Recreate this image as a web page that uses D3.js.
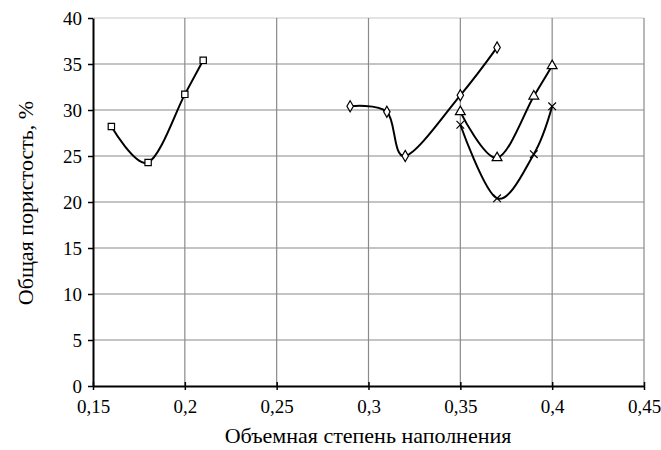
<!DOCTYPE html>
<html>
<head>
<meta charset="utf-8">
<script src="https://cdn.jsdelivr.net/npm/d3@7"></script>
</head>
<body style="margin:0;background:#fff">
<div id="chart"></div>
<script>
// data
const xSquare = [0.16, 0.18, 0.2, 0.21];
const ySquare = [28.2, 24.3, 31.7, 35.4];

const xDiamond = [0.29, 0.31, 0.32, 0.35, 0.37];
const yDiamond = [30.4, 29.8, 25.0, 31.6, 36.8];

const xTriangle = [0.35, 0.37, 0.39, 0.4];
const yTriangle = [29.8, 24.8, 31.5, 34.8];

const xCross = [0.35, 0.37, 0.39, 0.4];
const yCross = [28.4, 20.4, 25.2, 30.4];

const xTicks = [0.15, 0.2, 0.25, 0.3, 0.35, 0.4, 0.45];
const yTicks = [0, 5, 10, 15, 20, 25, 30, 35, 40];

const FONT = "'Times New Roman', 'Liberation Serif', serif";
const width = 661, height = 450;
const margin = {left: 93, right: 17, top: 18, bottom: 64};

const svg = d3.select("#chart").append("svg")
  .attr("width", width).attr("height", height)
  .style("font-family", FONT);

const x = d3.scaleLinear().domain([0.15, 0.45]).range([margin.left, width - margin.right]);
const y = d3.scaleLinear().domain([0, 40]).range([height - margin.bottom, margin.top]);

const fmt = d => String(d).replace(".", ",");

// grid
svg.append("g").selectAll("line")
  .data(yTicks.slice(1))
  .enter().append("line")
  .attr("x1", x(0.15)).attr("x2", x(0.45))
  .attr("y1", d => y(d)).attr("y2", d => y(d))
  .attr("stroke", d => d === 40 ? "#c8c8c8" : "#8a8a8a").attr("stroke-width", 1.2);

svg.append("g").selectAll("line")
  .data(xTicks.slice(1))
  .enter().append("line")
  .attr("x1", d => x(d)).attr("x2", d => x(d))
  .attr("y1", y(0)).attr("y2", y(40))
  .attr("stroke", "#8a8a8a").attr("stroke-width", 1.2);

// axes
const xAxis = svg.append("g")
  .attr("transform", `translate(0,${y(0)})`)
  .call(d3.axisBottom(x).tickValues(xTicks).tickFormat(fmt).tickSize(4).tickSizeOuter(0))
  .attr("font-size", 19);
xAxis.selectAll(".tick line").attr("y1", -4).attr("stroke-width", 1.5);
xAxis.select(".domain").attr("stroke-width", 2);
xAxis.selectAll("text").attr("dy", "1.05em").attr("fill", "#000").style("font-family", FONT);

const yAxis = svg.append("g")
  .attr("transform", `translate(${x(0.15)},0)`)
  .call(d3.axisLeft(y).tickValues(yTicks).tickSize(5).tickSizeOuter(0))
  .attr("font-size", 19);
yAxis.selectAll(".tick line").attr("stroke-width", 1.5);
yAxis.select(".domain").attr("stroke-width", 2);
yAxis.selectAll("text").attr("x", -11).attr("fill", "#000").style("font-family", FONT);

// titles
svg.append("text")
  .attr("x", 368).attr("y", 443)
  .attr("text-anchor", "middle").attr("font-size", 22)
  .style("font-family", FONT)
  .text("Объемная степень наполнения");

svg.append("text")
  .attr("transform", "translate(33,203) rotate(-90)")
  .attr("text-anchor", "middle").attr("font-size", 22)
  .style("font-family", FONT)
  .text("Общая пористость, %");

// series
const line = d3.line().x(d => x(d[0])).y(d => y(d[1])).curve(d3.curveCardinal.tension(0));
const zip = (a, b) => a.map((v, i) => [v, b[i]]);

const series = [
  {pts: zip(xSquare, ySquare), sym: d3.symbolSquare, size: 40},
  {pts: zip(xDiamond, yDiamond), sym: d3.symbolDiamond, size: 36},
  {pts: zip(xTriangle, yTriangle), sym: d3.symbolTriangle, size: 42},
  {pts: zip(xCross, yCross), sym: d3.symbolX, size: 40}
];

series.forEach(s => {
  svg.append("path")
    .datum(s.pts)
    .attr("d", line)
    .attr("fill", "none")
    .attr("stroke", "#000")
    .attr("stroke-width", 2);

  svg.append("g").selectAll("path")
    .data(s.pts)
    .enter().append("path")
    .attr("transform", d => `translate(${x(d[0])},${y(d[1])})`)
    .attr("d", d3.symbol().type(s.sym).size(s.size))
    .attr("fill", s.sym === d3.symbolX ? "none" : "#fff")
    .attr("stroke", "#000")
    .attr("stroke-width", 1.2);
});
</script>
</body>
</html>
